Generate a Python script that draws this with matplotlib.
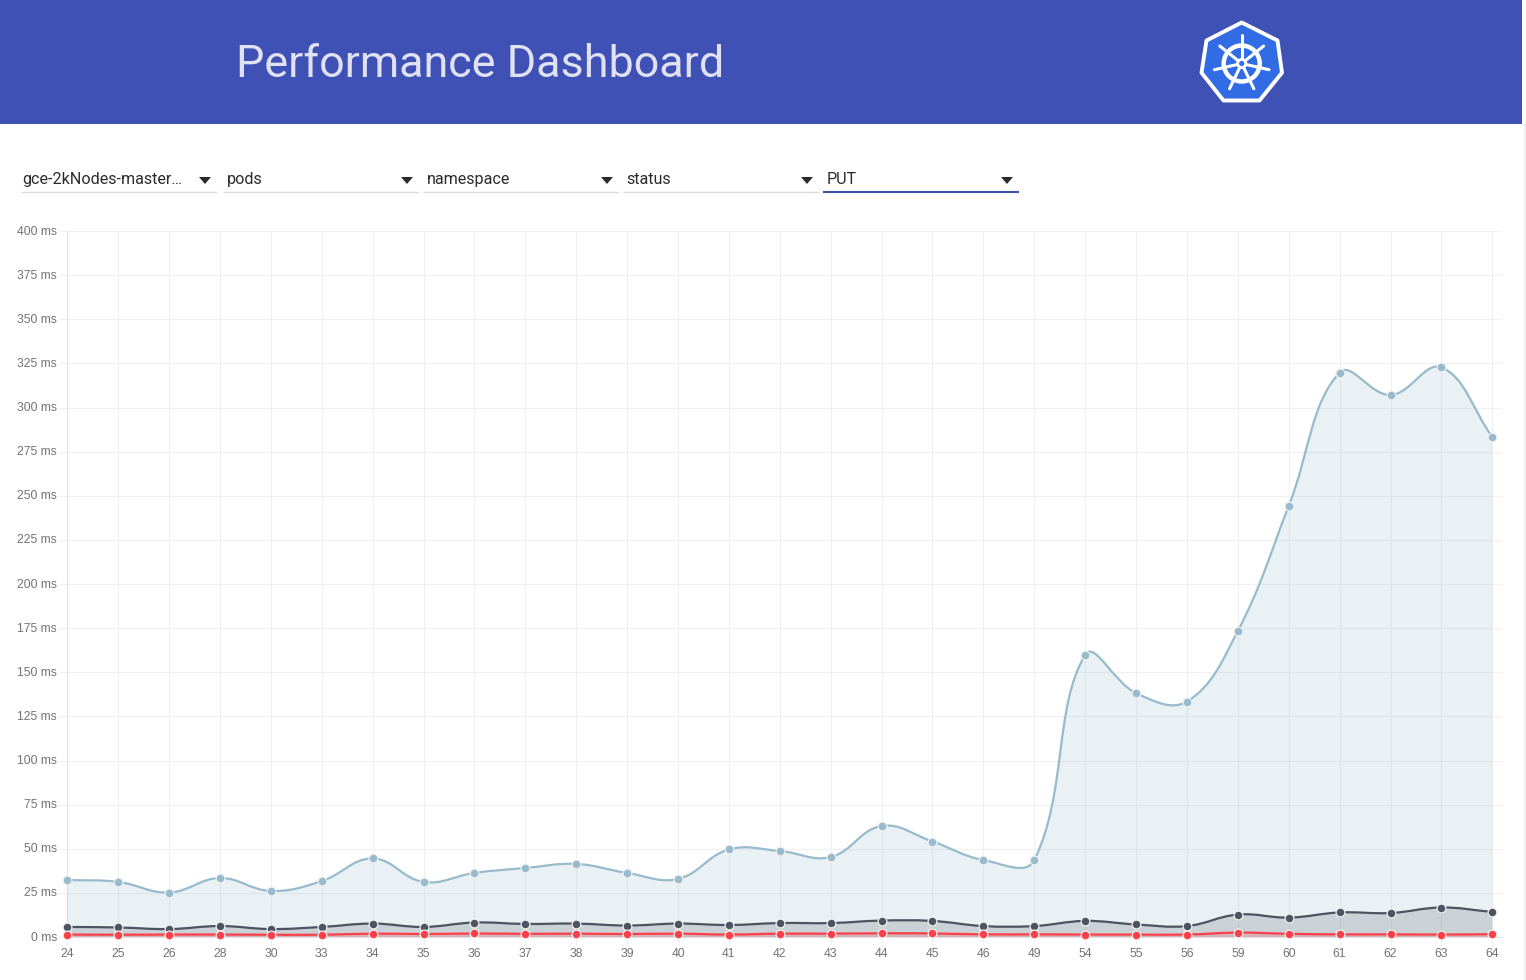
#!/usr/bin/env python3
"""
Performance Dashboard chart
"""

import numpy as np
import matplotlib
matplotlib.use('Agg')
import matplotlib.pyplot as plt
from matplotlib.path import Path
from matplotlib.patches import PathPatch, Polygon, Rectangle, Circle
from matplotlib.transforms import ScaledTranslation

W, H = 1526, 980

# Data
builds = ['24', '25', '26', '28', '30', '33', '34', '35', '36', '37', '38', '39', '40', '41', '42',
          '43', '44', '45', '46', '49', '54', '55', '56', '59', '60', '61', '62', '63', '64']
perc99 = [32.3, 31.2, 25.2, 33.4, 26.1, 31.7, 44.5, 31.2, 36.3, 39.1, 41.4, 36.3, 32.9, 49.6, 48.7,
          45.3, 62.9, 54.1, 43.6, 43.6, 159.8, 138.2, 133.4, 173.4, 244.2, 319.8, 307.1, 322.7, 283.3]
perc90 = [5.7, 5.4, 4.5, 6.2, 4.5, 5.7, 7.6, 5.7, 8.2, 7.4, 7.6, 6.5, 7.6, 6.8, 7.9,
          7.9, 9.3, 9.1, 6.2, 6.2, 9.1, 7.1, 6.2, 12.7, 11.0, 13.9, 13.6, 16.7, 14.2]
perc50 = [1.4, 1.3, 1.4, 1.4, 1.3, 1.3, 1.9, 1.7, 2.0, 1.8, 1.9, 1.7, 1.9, 1.4, 1.9,
          1.9, 2.1, 2.0, 1.5, 1.5, 1.4, 1.4, 1.4, 2.5, 1.8, 1.5, 1.5, 1.4, 1.6]
y_ticks = list(range(0, 401, 25))
dropdowns = ['gce-2kNodes-master…', 'pods', 'namespace', 'status', 'PUT']

# Colors
indigo = '#3f51b5'
kube_blue = '#326ce5'
blue_line = '#97bbcd'
dark_line = '#4d5360'
red_line = '#fd3f49'
grid_gray = '#f0f0f0'
axis_gray = '#e2e2e2'
label_gray = '#737373'

fig = plt.figure(figsize=(W / 100, H / 100), dpi=100, facecolor='white')

# Page layer in pixel coordinates
page = fig.add_axes([0, 0, 1, 1])
page.set_xlim(0, W)
page.set_ylim(H, 0)
page.axis('off')

# Header
page.add_patch(Rectangle((0, 0), 1522, 124, facecolor=indigo, edgecolor='none'))
page.text(236, 65, 'Performance Dashboard', fontsize=32.3, family='Roboto', color='#e0e2f3',
          ha='left', va='center')

# Logo
hept = [(1241.7, 22.5), (1277.5, 40.5), (1282, 72.7), (1259.5, 100.5), (1223.5, 100.5), (1201.5, 72.7), (1206.5, 40.5)]
page.add_patch(Polygon(hept, closed=True, facecolor=kube_blue, edgecolor='white', linewidth=2.8,
                       joinstyle='round'))
cx, cy = 1241.7, 63.5
page.add_patch(Circle((cx, cy), 18, facecolor='none', edgecolor='white', linewidth=3.2))
for ang in np.arange(7) * 2 * np.pi / 7:
    page.plot([cx, cx + 28 * np.sin(ang)], [cy, cy - 28 * np.cos(ang)], color='white', lw=2.2,
              solid_capstyle='round')
page.add_patch(Circle((cx, cy), 5.5, facecolor='white', edgecolor='none', zorder=5))
page.add_patch(Circle((cx, cy), 2.6, facecolor=kube_blue, edgecolor='none', zorder=6))

# Dropdowns
starts = [21, 223, 423, 623, 823]
for i, (label, x0) in enumerate(zip(dropdowns, starts)):
    last = i == len(dropdowns) - 1
    page.plot([x0, x0 + 195.5], [192, 192], color=indigo if last else '#dcdcdc',
              lw=1.5 if last else 1.0, solid_capstyle='butt')
    page.text(x0 + 1.5 if i == 0 else x0 + 3.5, 179.5, label, fontsize=11.6, family='Roboto',
              color='#2b2b2b', ha='left', va='center')
    ax0 = x0 + 184
    page.add_patch(Polygon([(ax0 - 6, 177), (ax0 + 6, 177), (ax0, 184)], closed=True,
                           facecolor='#2a2a2a', edgecolor='none'))

# Shadow down the right edge, below the header
page.plot([1524.5, 1524.5], [124, H], color='#eeeeee', lw=2)

# Chart axes: 0 ms at y=937, 400 ms at y=231, first build at x=67.3, last at x=1492.3
x0_px = 67.3
x_step = 1425 / 28
y_step = (937 - 231) / 400
ax_right = (1502 - x0_px) / x_step
ax = fig.add_axes([x0_px / W, 1 - 937 / H, (1502 - x0_px) / W, (937 - 231) / H], facecolor='none')
ax.set_xlim(0, ax_right)
ax.set_ylim(0, 400)

xs = np.arange(len(builds))
ax.set_xticks(xs)
ax.set_xticklabels(builds)
ax.set_yticks(y_ticks)
ax.set_yticklabels([f'{v} ms' for v in y_ticks])
ax.tick_params(axis='x', length=5.5, width=0.8, color=grid_gray, labelcolor=label_gray, pad=2.5)
ax.tick_params(axis='y', length=5.5, width=0.8, color=grid_gray, labelcolor=label_gray, pad=2)
nudge_up = ScaledTranslation(0, 1 / 100, fig.dpi_scale_trans)
for lab in ax.get_xticklabels() + ax.get_yticklabels():
    lab.set_family('Liberation Sans')
    lab.set_fontsize(8.7)
for lab in ax.get_yticklabels():
    lab.set_transform(lab.get_transform() + nudge_up)
ax.grid(True, color=grid_gray, linewidth=0.8)
ax.set_axisbelow(True)
for name, spine in ax.spines.items():
    spine.set_visible(name in ('left', 'bottom'))
    spine.set_color(axis_gray)
    spine.set_linewidth(0.8)


def bezier_path(x, y, tension=0.4):
    """Curve through the points, with control points worked out in pixel space."""
    px = np.asarray(x, float) * x_step
    py = np.asarray(y, float) * y_step
    n = len(px)
    verts = [(x[0], y[0])]
    codes = [Path.MOVETO]
    nxt = [None] * n
    prv = [None] * n
    for i in range(n):
        a, c = max(i - 1, 0), min(i + 1, n - 1)
        d01 = np.hypot(px[i] - px[a], py[i] - py[a])
        d12 = np.hypot(px[c] - px[i], py[c] - py[i])
        s01 = d01 / (d01 + d12)
        s12 = d12 / (d01 + d12)
        dx, dy = px[c] - px[a], py[c] - py[a]
        prv[i] = (px[i] - tension * s01 * dx, py[i] - tension * s01 * dy)
        nxt[i] = (px[i] + tension * s12 * dx, py[i] + tension * s12 * dy)
    for i in range(n - 1):
        verts += [(nxt[i][0] / x_step, nxt[i][1] / y_step),
                  (prv[i + 1][0] / x_step, prv[i + 1][1] / y_step),
                  (x[i + 1], y[i + 1])]
        codes += [Path.CURVE4] * 3
    return verts, codes


# Series, back to front
for values, color, z in [(perc99, blue_line, 3), (perc90, dark_line, 4), (perc50, red_line, 5)]:
    verts, codes = bezier_path(xs, values)
    area = Path(verts + [(xs[-1], 0), (xs[0], 0), (xs[0], values[0])],
                codes + [Path.LINETO, Path.LINETO, Path.LINETO])
    ax.add_patch(PathPatch(area, facecolor=color, alpha=0.2, edgecolor='none', zorder=z))
    ax.add_patch(PathPatch(Path(verts, codes), facecolor='none', edgecolor=color, linewidth=1.6,
                           zorder=z + 0.1))
    ax.scatter(xs, values, s=40, color=color, edgecolors='#f0f0f0', linewidths=0.9, zorder=z + 0.2,
               clip_on=False)

fig.savefig('out.png', dpi=100, facecolor='white')
plt.close(fig)
